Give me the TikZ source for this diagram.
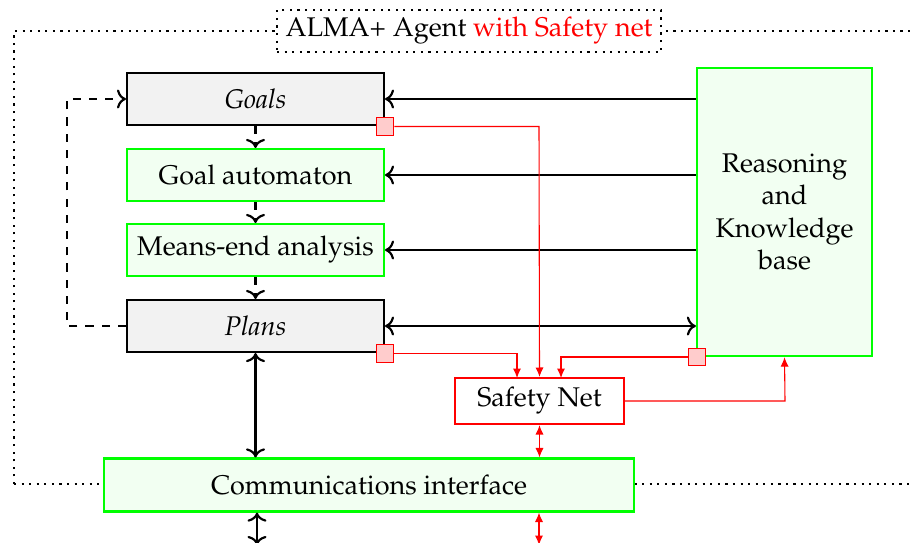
\documentclass[tikz,border=0pt]{standalone}
\usepackage[T1]{fontenc}
\usepackage{mathpazo}
\usetikzlibrary{arrows.meta,positioning}
\begin{document}
\begin{tikzpicture}[x=0.37pt,y=-0.37pt,
  blackbox/.style={draw=black,thick,fill=gray!10,minimum width=95pt,minimum height=19.2pt,inner sep=0pt,font=\itshape},
  greenbox/.style={draw=green,thick,fill=green!5,minimum width=95pt,minimum height=19.2pt,inner sep=0pt},
  redbox/.style={draw=red,thick,fill=white,minimum width=62.5pt,minimum height=17pt,inner sep=0pt},
  sq/.style={draw=red,fill=red!20,minimum size=6.5pt,inner sep=0pt},
  blk/.style={thick,-{To}},
  blkb/.style={thick,{To}-{To}},
  rd/.style={red,-{Latex[length=3.5pt,width=3pt]}},
  rdb/.style={red,{Latex[length=3.5pt,width=3pt]}-{Latex[length=3.5pt,width=3pt]}}]
\useasboundingbox (0,0) rectangle (913,542);
% outer frame
\draw[dotted,thick] (14,484) -- (14,31) -- (930,31);
\draw[dotted,thick] (14,484) -- (930,484);
\node[draw,dotted,thick,fill=white,minimum width=142pt,minimum height=15.5pt,inner sep=0pt] (title) at (469,31) {ALMA+ Agent \textcolor{red}{with Safety net}};
% boxes
\node[blackbox] (goals) at (255.5,99) {Goals};
\node[greenbox] (ga) at (255.5,175) {Goal automaton};
\node[greenbox] (me) at (255.5,250) {Means-end analysis};
\node[blackbox] (plans) at (255.5,326) {Plans};
\node[greenbox,minimum width=64.75pt,minimum height=106.6pt,align=center] (kb) at (784.5,212) {Reasoning\\and\\Knowledge\\base};
\node[redbox] (sn) at (539.5,401) {Safety Net};
\node[greenbox,minimum width=196pt,minimum height=19.6pt] (ci) at (369,485) {Communications interface};
\coordinate (cb1) at (257,545);
\coordinate (cb2) at (539,545);
% black arrows
\draw[blk] (kb.west |- goals.east) -- (goals.east);
\draw[blk] (kb.west |- ga.east) -- (ga.east);
\draw[blk] (kb.west |- me.east) -- (me.east);
\draw[blkb] (plans.east) -- (kb.west |- plans.east);
\draw[thick,dashed,-{To}] (goals.south) -- (ga.north);
\draw[thick,dashed,-{To}] (ga.south) -- (me.north);
\draw[thick,dashed,-{To}] (me.south) -- (plans.north);
\draw[thick,dashed,-{To}] (plans.west) -- (67,326) -- (67,99) -- (goals.west);
\draw[blkb] (plans.south) -- (plans.south |- ci.north);
\draw[blkb] (ci.south -| cb1) -- (cb1);
% squares
\node[sq] (sg) at (385,126.5) {};
\node[sq] (sp) at (385,353.5) {};
\node[sq] (sk) at (697,357) {};
% red lines
\draw[rd] (sg.east) -- (539,126.5) -- (sn.north);
\draw[rd] (sp.east) -- (517,353.5) -- (517,378);
\draw[rd] (sk.west) -- (561,357) -- (561,378);
\draw[rd] (sn.east) -- (785,401) -- (kb.south);
\draw[rdb] (sn.south) -- (sn.south |- ci.north);
\draw[rdb] (ci.south -| cb2) -- (cb2);
\end{tikzpicture}
\end{document}
